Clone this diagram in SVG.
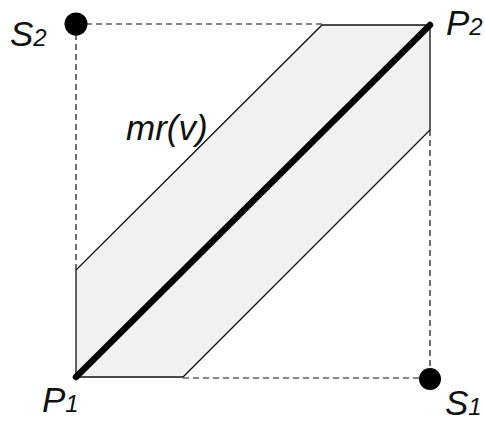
<svg xmlns="http://www.w3.org/2000/svg" width="485" height="425" viewBox="0 0 485 425">
<style>
.lbl{font-family:"Liberation Sans",Arial,sans-serif;font-style:italic;fill:#111}
.main{font-size:35px}
.sub{font-size:24px}
.thin{stroke:#111;stroke-width:1.3;fill:none}
.dash{stroke:#111;stroke-width:1.2;stroke-dasharray:6,4;fill:none}
</style>
<rect width="485" height="425" fill="#fff"/>
<g id="band">
<polygon points="76,377 76,270 322,25 430,25 430,130 183,377" fill="#f1f1f1" stroke="none"/>
<polyline class="thin" points="76,377 76,270 322,25 430,25"/>
<polyline class="thin" points="76,377 183,377 430,130 430,25"/>
</g>
<g id="connectors">
<line class="dash" x1="76" y1="24" x2="76" y2="270"/>
<line class="dash" x1="76" y1="24" x2="322" y2="24"/>
<line class="dash" x1="430" y1="130" x2="430" y2="378"/>
<line class="dash" x1="183" y1="378" x2="430" y2="378"/>
<line x1="76" y1="377" x2="430" y2="25" stroke="#000" stroke-width="6.5" stroke-linecap="round"/>
</g>
<g id="S2"><circle cx="76" cy="24" r="11.5" fill="#000"/><text class="lbl main" x="10" y="46">S<tspan class="sub">2</tspan></text></g>
<g id="S1"><circle cx="430" cy="379" r="11" fill="#000"/><text class="lbl main" x="445" y="415">S<tspan class="sub">1</tspan></text></g>
<g id="P1"><text class="lbl main" x="42" y="412">P<tspan class="sub">1</tspan></text></g>
<g id="P2"><text class="lbl main" x="446" y="35">P<tspan class="sub">2</tspan></text></g>
<g id="label"><text class="lbl main" x="126" y="140">mr(v)</text></g>
</svg>
